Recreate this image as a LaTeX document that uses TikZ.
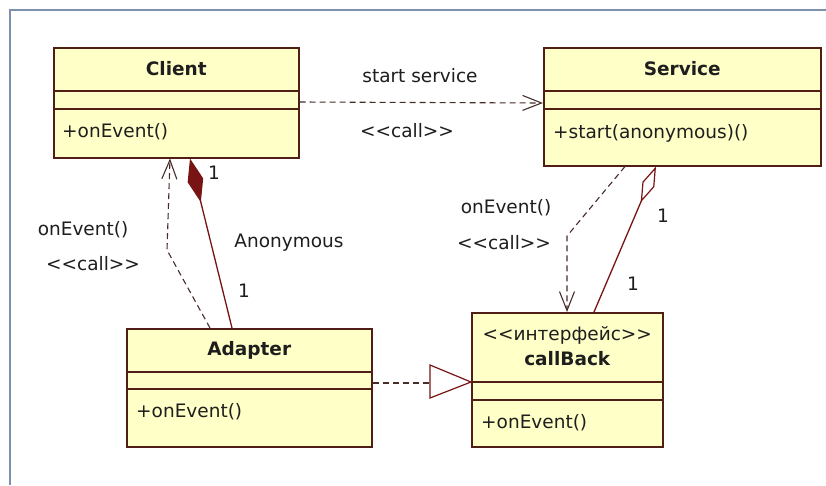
\documentclass[tikz,border=0pt]{standalone}
\usepackage{fontspec}
\setmainfont{DejaVu Sans}
\usetikzlibrary{arrows.meta,calc}

\definecolor{boxfill}{RGB}{255,255,200}
\definecolor{boxline}{RGB}{80,30,20}
\definecolor{assoc}{RGB}{120,20,20}
\definecolor{depline}{RGB}{70,45,40}
\definecolor{frameline}{RGB}{125,145,175}
\definecolor{txt}{RGB}{30,30,30}

% angle brackets kept apart so they are not joined into guillemets
\newcommand\lsq{<\kern0pt<}
\newcommand\rsq{>\kern0pt>}

\begin{document}
\begin{tikzpicture}[x=1pt,y=-1pt,
  umlbox/.style={draw=boxline,fill=boxfill,line width=1.5pt,inner sep=0pt,anchor=north west},
  divider/.style={draw=boxline,line width=1.5pt},
  classname/.style={font=\fontsize{18.5}{20}\selectfont\bfseries,text=txt,inner sep=0pt},
  member/.style={font=\fontsize{18.5}{20}\selectfont,text=txt,inner sep=0pt,anchor=west},
  lbl/.style={font=\fontsize{18.5}{20}\selectfont,text=txt,inner sep=0pt},
  dep/.style={draw=depline,line width=1.1pt,dash pattern=on 6pt off 4pt,
    -{Straight Barb[length=19pt,width=15pt,line width=1.1pt]}},
  realize/.style={draw=depline,line width=1.1pt,dash pattern=on 6pt off 4pt},
  compose/.style={draw=assoc,line width=1.3pt,
    {Diamond[length=45pt,width=16pt,fill=assoc]}-},
  aggregate/.style={draw=assoc,line width=1.3pt,
    {Diamond[open,length=39pt,width=13pt,line width=1.2pt,fill=white]}-},
]
\useasboundingbox (0,0) rectangle (826,485);
\fill[white] (0,0) rectangle (826,485);

% window frame
\draw[frameline,line width=2pt] (10,485) -- (10,10) -- (826,10);

% ---- Client
\node[umlbox,minimum width=245pt,minimum height=110pt] (client) at (53,47) {};
\draw[divider] ([yshift=-44pt]client.north west) -- ([yshift=-44pt]client.north east);
\draw[divider] ([yshift=-62pt]client.north west) -- ([yshift=-62pt]client.north east);
\node[classname] (clientname) at ([yshift=-22pt]client.north) {Client};
\node[member] (clientop) at ([xshift=9pt,yshift=-85pt]client.north west) {+onEvent()};

% ---- Service
\node[umlbox,minimum width=277pt,minimum height=118pt] (service) at (543,47) {};
\draw[divider] ([yshift=-44pt]service.north west) -- ([yshift=-44pt]service.north east);
\draw[divider] ([yshift=-62pt]service.north west) -- ([yshift=-62pt]service.north east);
\node[classname] (servicename) at ([yshift=-22pt]service.north) {Service};
\node[member] (serviceop) at ([xshift=10pt,yshift=-86pt]service.north west) {+start(anonymous)()};

% ---- Adapter
\node[umlbox,minimum width=245pt,minimum height=118pt] (adapter) at (126,328) {};
\draw[divider] ([yshift=-44pt]adapter.north west) -- ([yshift=-44pt]adapter.north east);
\draw[divider] ([yshift=-61pt]adapter.north west) -- ([yshift=-61pt]adapter.north east);
\node[classname] (adaptername) at ([yshift=-22pt]adapter.north) {Adapter};
\node[member] (adapterop) at ([xshift=10pt,yshift=-84pt]adapter.north west) {+onEvent()};

% ---- callBack interface
\node[umlbox,minimum width=191pt,minimum height=134pt] (callback) at (471,312) {};
\draw[divider] ([yshift=-70pt]callback.north west) -- ([yshift=-70pt]callback.north east);
\draw[divider] ([yshift=-88pt]callback.north west) -- ([yshift=-88pt]callback.north east);
\node[lbl] (stereo) at ([yshift=-23pt]callback.north) {\lsq интерфейс\rsq};
\node[classname] (callbackname) at ([yshift=-47pt]callback.north) {callBack};
\node[member] (callbackop) at ([xshift=10pt,yshift=-111pt]callback.north west) {+onEvent()};

% ---- attachment points on the box edges
\coordinate (cliBotDep) at ([xshift=117pt]client.south west);
\coordinate (cliBotComp) at ([xshift=137pt]client.south west);
\coordinate (cliRight) at ([yshift=-55pt]client.north east);
\coordinate (srvLeft) at ([yshift=-56pt]service.north west);
\coordinate (srvBotDep) at ([xshift=82pt]service.south west);
\coordinate (srvBotAgg) at ([xshift=113pt]service.south west);
\coordinate (adpTopDep) at ([xshift=84pt]adapter.north west);
\coordinate (adpTopComp) at ([xshift=106pt]adapter.north west);
\coordinate (adpRight) at ([yshift=-55pt]adapter.north east);
\coordinate (cbTopDep) at ([xshift=96pt]callback.north west);
\coordinate (cbTopAgg) at ([xshift=123pt]callback.north west);
\coordinate (cbLeft) at ([yshift=-70pt]callback.north west);
\coordinate (bendA) at (167,250);
\coordinate (bendB) at (567,236);
\coordinate (triTop) at (430,365);
\coordinate (triBot) at (430,398);
\coordinate (triBase) at (430,383);

% Client --> Service
\draw[dep] (cliRight) -- (srvLeft);
\node[lbl] (lblStart) at (420,76) {start service};
\node[lbl] (lblCall1) at (407,131) {\lsq call\rsq};

% Adapter --> Client
\draw[dep] (adpTopDep) -- (bendA) -- (cliBotDep);
\node[lbl] (lblOn1) at (83,230) {onEvent()};
\node[lbl] (lblCall2) at (93,264) {\lsq call\rsq};

% Client <>-- Adapter (composition)
\draw[compose] (cliBotComp) -- (adpTopComp);
\node[lbl] (m1) at (214,173) {1};
\node[lbl] (lblAnon) at (289,243) {Anonymous};
\node[lbl] (m2) at (244,291) {1};

% Service --> callBack
\draw[dep] (srvBotDep) -- (bendB) -- (cbTopDep);
\node[lbl] (lblOn2) at (506,208) {onEvent()};
\node[lbl] (lblCall3) at (504,243) {\lsq call\rsq};

% Service <>-- callBack (aggregation)
\draw[aggregate] (srvBotAgg) -- (cbTopAgg);
\node[lbl] (m3) at (663,216) {1};
\node[lbl] (m4) at (633,284) {1};

% Adapter ..|> callBack (realization)
\draw[realize] (adpRight) -- (triBase);
\draw[draw=assoc,line width=1.2pt,fill=white,line join=miter]
  (cbLeft) -- (triTop) -- (triBot) -- cycle;
\end{tikzpicture}
\end{document}
